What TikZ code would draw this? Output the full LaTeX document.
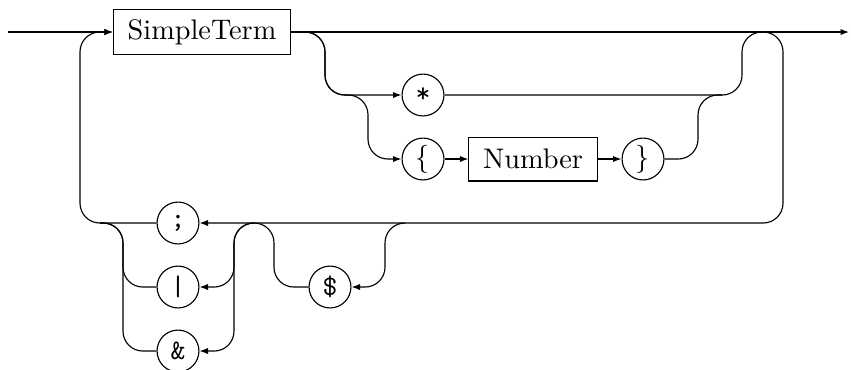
\documentclass[tikz,border=0pt]{standalone}
\usepackage{amsmath, amssymb}
\usepackage{tikz}
\usetikzlibrary{arrows.meta}

\begin{document}
\begin{tikzpicture}[x=0.3534pt, y=-0.3534pt, >={Latex[length=3pt, width=2.2pt]},
        rounded corners=7pt,
        nonterm/.style={draw, rectangle, minimum height=15.5pt, inner xsep=5pt, sharp corners},
        term/.style={draw, circle, minimum size=14.8pt, inner sep=0pt, font=\ttfamily, sharp corners}]
            \useasboundingbox (0,0) rectangle (851,369);

            \node[nonterm] (simple) at (202,32) {SimpleTerm};
            \node[term] (star) at (423,95) {*};
            \node[term] (lbrace) at (423,159) {$\{$};
            \node[nonterm] (number) at (533,159) {Number};
            \node[term] (rbrace) at (643,159) {$\}$};
            \node[term] (semi) at (178,223) {;};
            \node[term] (bar) at (178,287) {|};
            \node[term] (amp) at (178,351) {\&};
            \node[term] (dollar) at (330,287) {\$};

            \coordinate (start) at (8,32);
            \coordinate (finish) at (849,32);
            \coordinate (joinL) at (100,223);
            \coordinate (splitB) at (254,223);
            \coordinate (splitC) at (405,223);
            \coordinate (joinR) at (722,95);

            % main line
            \draw[->] (start) -- (simple.west);
            \draw[->] (simple.east) -- (finish);

            % optional * or { Number }
            \draw[->] (simple.east) -| (325,95) -- (star.west);
            \draw[->] (simple.east) -| (325,95) -| (368,159) -- (lbrace.west);
            \draw[->] (lbrace) -- (number);
            \draw[->] (number) -- (rbrace);
            \draw (rbrace.east) -| (698,95) -- (joinR);

            % loop back
            \draw[->] (star.east) -| (742,32) -| (783,223) -- (semi.east);
            \draw[->] (semi.west) -| (80,32) -- (simple.west);

            % separators
            \draw[->] (splitB) -| (234,287) -- (bar.east);
            \draw[->] (splitB) -| (234,351) -- (amp.east);
            \draw (bar.west) -| (123,223) -- (joinL);
            \draw (amp.west) -| (123,223) -- (joinL);

            % optional $
            \draw[->] (splitC) -| (385,287) -- (dollar.east);
            \draw (dollar.west) -| (274,223) -- (splitB);
        \end{tikzpicture}
\end{document}
